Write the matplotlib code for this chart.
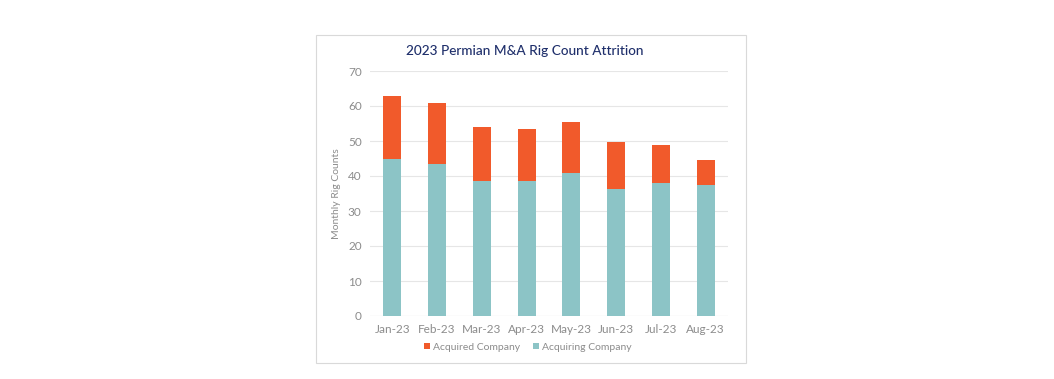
import matplotlib
matplotlib.use("Agg")
from matplotlib import pyplot as plt
from matplotlib.patches import Rectangle
import numpy as np

months = ["Jan-23", "Feb-23", "Mar-23", "Apr-23", "May-23", "Jun-23", "Jul-23", "Aug-23"]
acquiring = [44.8, 43.5, 38.6, 38.5, 40.8, 36.3, 38.0, 37.5]
acquired = [18.0, 17.5, 15.4, 15.0, 14.5, 13.5, 10.8, 7.0]
yticks = [0, 10, 20, 30, 40, 50, 60, 70]

plt.rcParams['font.family'] = ['Lato', 'DejaVu Sans']

W, H = 1054, 379
fig = plt.figure(figsize=(W / 100, H / 100), dpi=100)

# chart frame
fig.patches.append(Rectangle((316 / W, 1 - 363 / H), 430 / W, 328 / H,
                             transform=fig.transFigure, fill=False,
                             edgecolor="#D9D9D9", linewidth=0.8))

ax = fig.add_axes([370 / W, 1 - 316 / H, 358 / W, 245 / H])
x = np.arange(len(months))
teal = "#8CC4C6"
orange = "#F15A2B"
ax.bar(x, acquiring, width=0.4, color=teal, label="Acquiring Company", zorder=3)
ax.bar(x, acquired, width=0.4, bottom=acquiring, color=orange, label="Acquired Company", zorder=3)

ax.set_xlim(-0.5, len(months) - 0.5)
ax.set_ylim(0, 70)
ax.set_yticks(yticks)
ax.grid(axis="y", color="#E6E6E6", linewidth=0.8, zorder=0)
for s in ax.spines.values():
    s.set_visible(False)
ax.axhline(0, color="#D9D9D9", linewidth=0.8, zorder=2)
ax.tick_params(length=0, colors="#8C8C8C", labelsize=8.5)
ax.tick_params(axis="y", pad=6)
ax.tick_params(axis="x", pad=6)
ax.set_xticks(x)
ax.set_xticklabels(months)
ax.set_ylabel("Monthly Rig Counts", color="#8C8C8C", fontsize=7.5, labelpad=5)

fig.text(525 / W, 1 - 51 / H, "2023 Permian M&A Rig Count Attrition",
         ha="center", va="center", fontsize=9.8, color="#1F2F6B", fontweight="medium")

handles, labels = ax.get_legend_handles_labels()
fig.legend(handles[::-1], labels[::-1], loc="center", bbox_to_anchor=(528 / W, 1 - 347 / H),
           ncol=2, frameon=False, fontsize=7.5, labelcolor="#8C8C8C",
           handlelength=0.6, handleheight=0.6, handletextpad=0.3, columnspacing=1.2)

fig.savefig("out.png", dpi=100, facecolor="white")
